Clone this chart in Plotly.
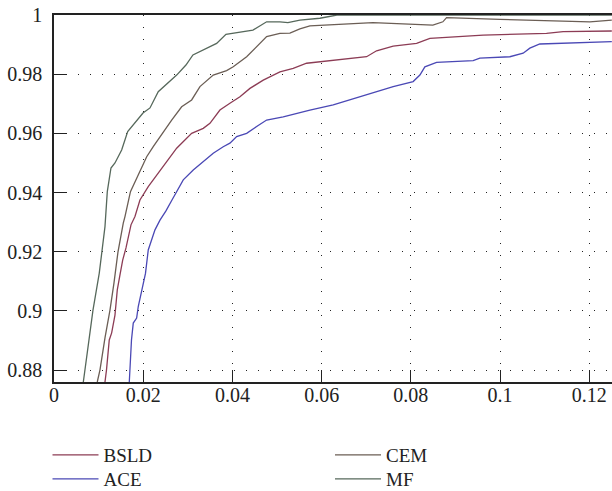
import plotly.graph_objects as go

# ---- data ----
mf_x = [0.00657, 0.00695, 0.00791, 0.00874, 0.01015, 0.01087, 0.01143, 0.01195, 0.01277, 0.01367,
        0.01517, 0.01652, 0.01741, 0.01995, 0.02152, 0.02337, 0.0275, 0.02958, 0.03115, 0.03272,
        0.03451, 0.03646, 0.03855, 0.04012, 0.0446, 0.04767, 0.05065, 0.05244, 0.05513, 0.05961,
        0.06342, 0.1251]
mf_y = [0.876, 0.8801, 0.8902, 0.9003, 0.9128, 0.9206, 0.9285, 0.9403, 0.9483, 0.9500,
        0.9544, 0.9606, 0.9623, 0.9669, 0.9686, 0.9741, 0.9797, 0.9831, 0.9865, 0.9876,
        0.9888, 0.9904, 0.9935, 0.9938, 0.9949, 0.9977, 0.9977, 0.9974, 0.9983, 0.9989,
        1.0, 1.0]

cem_x = [0.0097, 0.01031, 0.01143, 0.01255, 0.01345, 0.01434, 0.01553, 0.01591, 0.01714, 0.01815,
         0.01927, 0.02078, 0.02225, 0.0245, 0.02638, 0.02862, 0.03086, 0.03272, 0.0357, 0.0387,
         0.04018, 0.04319, 0.04543, 0.04767, 0.05065, 0.05289, 0.05513, 0.05737, 0.07149, 0.07905,
         0.08494, 0.08718, 0.08801, 0.09996, 0.12013, 0.12506]
cem_y = [0.876, 0.8801, 0.8909, 0.9003, 0.9095, 0.9199, 0.9297, 0.9319, 0.9403, 0.9437,
         0.9476, 0.9521, 0.9555, 0.9606, 0.9645, 0.969, 0.9713, 0.9758, 0.9797, 0.9812,
         0.9825, 0.9859, 0.9893, 0.9927, 0.9938, 0.9939, 0.9953, 0.9963, 0.9974, 0.997,
         0.9966, 0.9977, 0.9991, 0.9985, 0.9977, 0.9983]

bsld_x = [0.01143, 0.01177, 0.01239, 0.01293, 0.01367, 0.01419, 0.01479, 0.0154, 0.01614, 0.01665,
          0.01726, 0.01815, 0.01927, 0.02113, 0.02338, 0.02562, 0.0275, 0.03086, 0.03346, 0.03496,
          0.0372, 0.03944, 0.04169, 0.04393, 0.04691, 0.05065, 0.05363, 0.05663, 0.05961, 0.07008,
          0.07232, 0.07604, 0.08129, 0.08427, 0.09621, 0.11042, 0.11414, 0.12506]
bsld_y = [0.876, 0.8801, 0.8902, 0.8926, 0.8986, 0.9071, 0.9122, 0.9172, 0.9213, 0.9251,
          0.9291, 0.9319, 0.9375, 0.942, 0.9465, 0.951, 0.955, 0.96, 0.9617, 0.9634,
          0.9679, 0.9702, 0.9724, 0.9752, 0.978, 0.9808, 0.982, 0.9837, 0.9842, 0.9859,
          0.9879, 0.9895, 0.9904, 0.9921, 0.9932, 0.9938, 0.9944, 0.9946]

ace_x = [0.01688, 0.01703, 0.01737, 0.01777, 0.01853, 0.01889, 0.01961, 0.02051, 0.02113, 0.0219,
         0.02264, 0.02376, 0.0251, 0.02645, 0.02757, 0.02898, 0.03122, 0.03384, 0.0357, 0.03794,
         0.03944, 0.04095, 0.04319, 0.04543, 0.04767, 0.05139, 0.05439, 0.05737, 0.0626, 0.07008,
         0.07604, 0.08052, 0.08203, 0.08315, 0.08577, 0.09397, 0.09547, 0.1022, 0.10518, 0.10668,
         0.10892, 0.12506]
ace_y = [0.876, 0.8801, 0.8902, 0.8959, 0.8976, 0.9015, 0.906, 0.9127, 0.9206, 0.924,
         0.9274, 0.9307, 0.9338, 0.9375, 0.9403, 0.9443, 0.9476, 0.951, 0.9533, 0.9555,
         0.9567, 0.9589, 0.96, 0.9623, 0.9645, 0.9656, 0.9668, 0.9679, 0.9696, 0.973,
         0.9758, 0.9775, 0.9797, 0.9825, 0.984, 0.9846, 0.9854, 0.9859, 0.9871, 0.9888,
         0.9902, 0.991]

x_ticks = [0, 0.02, 0.04, 0.06, 0.08, 0.1, 0.12]
x_tick_labels = ["0", "0.02", "0.04", "0.06", "0.08", "0.1", "0.12"]
y_ticks = [0.88, 0.9, 0.92, 0.94, 0.96, 0.98, 1.0]
y_tick_labels = ["0.88", "0.9", "0.92", "0.94", "0.96", "0.98", "1"]

FONT = "Liberation Serif"

fig = go.Figure()
fig.add_trace(go.Scatter(x=bsld_x, y=bsld_y, mode="lines", name="BSLD",
                         line=dict(color="#8c3c55", width=1.3), legend="legend"))
fig.add_trace(go.Scatter(x=ace_x, y=ace_y, mode="lines", name="ACE",
                         line=dict(color="#4a48b5", width=1.3), legend="legend2"))
fig.add_trace(go.Scatter(x=cem_x, y=cem_y, mode="lines", name="CEM",
                         line=dict(color="#6b5e55", width=1.3), legend="legend3"))
fig.add_trace(go.Scatter(x=mf_x, y=mf_y, mode="lines", name="MF",
                         line=dict(color="#56685b", width=1.3), legend="legend4"))

axis_common = dict(
    showline=True, linecolor="#222", linewidth=1.5, mirror=True,
    ticks="inside", ticklen=12, tickwidth=1.2, tickcolor="#222",
    showgrid=True, gridcolor="#222", gridwidth=1.2, griddash="1px,11px",
    zeroline=False, automargin=False, ticklabeloverflow="allow",
    tickfont=dict(family=FONT, size=20, color="#222"),
)

fig.update_xaxes(range=[0, 0.1251], tickvals=x_ticks, ticktext=x_tick_labels,
                 ticklabelstandoff=-6, **axis_common)
fig.update_yaxes(range=[0.876, 1.0], tickvals=y_ticks, ticktext=y_tick_labels,
                 ticklabelstandoff=6, **axis_common)

W = 612.0
H = 491.0
legend_common = dict(font=dict(family=FONT, size=19, color="#222"),
                     bgcolor="rgba(0,0,0,0)", orientation="v",
                     xref="container", yref="container",
                     xanchor="left", yanchor="middle", itemwidth=46)
fig.update_layout(
    width=int(W), height=int(H),
    margin=dict(l=54, r=0, t=15, b=109, autoexpand=False),
    plot_bgcolor="white", paper_bgcolor="white",
    showlegend=True,
    legend=dict(x=47.5 / W, y=1 - 455 / H, **legend_common),
    legend2=dict(x=47.5 / W, y=1 - 479 / H, **legend_common),
    legend3=dict(x=330 / W, y=1 - 455 / H, **legend_common),
    legend4=dict(x=330 / W, y=1 - 479 / H, **legend_common),
)

# remove the default 8px page margin so the 612x491 figure fills the window exactly
fig.write_html("out.html", config={"displayModeBar": False},
               post_script="document.body.style.margin='0';")
